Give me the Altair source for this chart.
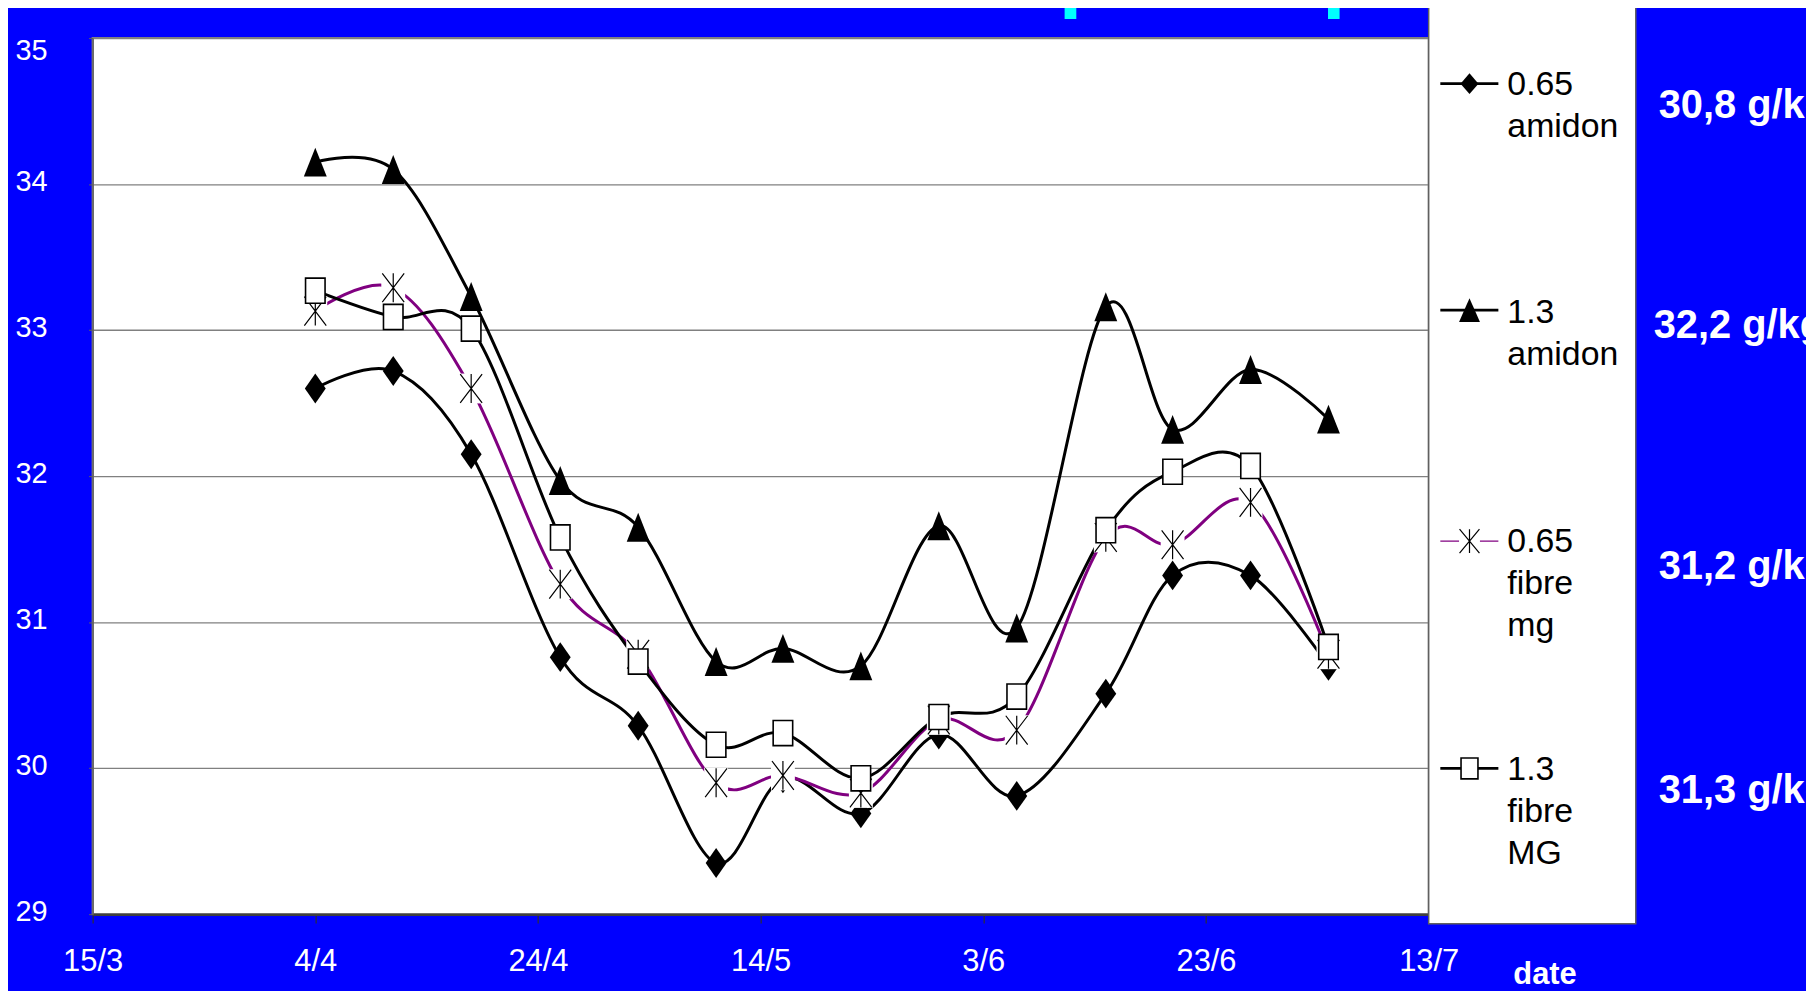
import altair as alt
import pandas as pd

# ---------------- data ----------------
dates = ["2002-04-04", "2002-04-11", "2002-04-18", "2002-04-26", "2002-05-03",
         "2002-05-10", "2002-05-16", "2002-05-23", "2002-05-30", "2002-06-06",
         "2002-06-14", "2002-06-20", "2002-06-27", "2002-07-04"]
series_names = ["0.65 amidon", "1.3 amidon", "0.65 fibre mg", "1.3 fibre MG"]
amidon_065 = [32.60, 32.72, 32.15, 30.76, 30.29, 29.35, 29.93, 29.69, 30.23, 29.81, 30.51, 31.32, 31.32, 30.70]
amidon_13 = [34.15, 34.10, 33.23, 31.97, 31.65, 30.73, 30.82, 30.70, 31.66, 30.96, 33.16, 32.32, 32.73, 32.39]
fibre_065 = [33.13, 33.29, 32.60, 31.26, 30.78, 29.90, 29.95, 29.83, 30.33, 30.26, 31.58, 31.53, 31.82, 30.78]
fibre_13 = [33.27, 33.09, 33.01, 31.58, 30.73, 30.16, 30.24, 29.93, 30.35, 30.49, 31.63, 32.03, 32.07, 30.83]

x_tick_dates = [(2002, 3, 15), (2002, 4, 4), (2002, 4, 24), (2002, 5, 14),
                (2002, 6, 3), (2002, 6, 23), (2002, 7, 13)]
y_ticks = [29, 30, 31, 32, 33, 34, 35]
legend_labels = [["0.65", "amidon"], ["1.3", "amidon"], ["0.65", "fibre", "mg"], ["1.3", "fibre", "MG"]]
mean_labels = ["30,8 g/kg", "32,2 g/kg", "31,2 g/kg", "31,3 g/kg"]
title_text = "Résultats de taux protéique"
x_title = "date"

rows = []
for name, vals in zip(series_names, [amidon_065, amidon_13, fibre_065, fibre_13]):
    for d, v in zip(dates, vals):
        rows.append({"date": d, "value": v, "series": name})
df = pd.DataFrame(rows)
one = pd.DataFrame({"k": [0]})

# ---------------- styles ----------------
FONT = "Liberation Sans"
BLACK = "#000000"
PURPLE = "#800080"
DIAMOND = "M0,-15L10.5,0L0,15L-10.5,0Z"
TRIANGLE = "M0,-14.5L11.5,14.5L-11.5,14.5Z"
SQUARE = "M-9.8,-12.6H9.8V12.6H-9.8Z"
STAR = "M0,-14.5V14.5M-11,-14.5L11,14.5M11,-14.5L-11,14.5"
STARBOX = "M-12,-15H12V15H-12Z"
L_DIAMOND = "M0,-10.5L9,0L0,10.5L-9,0Z"
L_TRIANGLE = "M0,-12L10.5,12L-10.5,12Z"
L_SQUARE = "M-8.5,-10.5H8.5V10.5H-8.5Z"
L_STAR = "M0,-12V12M-10,-12L10,12M10,-12L-10,12"
L_STARBOX = "M-10.5,-12.5H10.5V12.5H-10.5Z"


def dt(t):
    return alt.DateTime(year=t[0], month=t[1], date=t[2], utc=True)


x_enc = alt.X(
    "date:T",
    scale=alt.Scale(type="utc", domain=[dt(x_tick_dates[0]), dt(x_tick_dates[-1])]),
    axis=alt.Axis(
        values=[dt(t) for t in x_tick_dates],
        labelExpr="utcFormat(datum.value, '%-d/%-m')",
        title=None, grid=False, domainColor="#404040", domainWidth=2.5,
        tickColor="#303030", tickSize=9, tickWidth=1.2,
        labelColor="white", labelFont=FONT, labelFontSize=31, labelPadding=48,
        labelBaseline="alphabetic", labelFlush=False, labelOverlap=False,
    ),
)
y_enc = alt.Y(
    "value:Q",
    scale=alt.Scale(domain=[29, 35], zero=False, nice=False),
    axis=alt.Axis(
        values=y_ticks, format="d", title=None, grid=True, gridColor="#808080",
        gridWidth=1.3, domainColor="#606060", domainWidth=1.5, tickColor="#606060",
        tickSize=4, labelColor="white", labelFont=FONT, labelFontSize=29,
        labelAlign="left", labelPadding=74, labelBaseline="middle",
        labelOffset={"condition": {"test": "datum.value == 35", "value": 13}, "value": -3},
        labelOverlap=False, labelFlush=False,
    ),
)

base = alt.Chart(df).encode(x=x_enc, y=y_enc)

lines = base.mark_line(interpolate="cardinal").encode(
    color=alt.Color("series:N", scale=alt.Scale(domain=series_names, range=[BLACK, BLACK, PURPLE, BLACK]), legend=None),
    strokeWidth=alt.StrokeWidth("series:N", scale=alt.Scale(domain=series_names, range=[3, 3, 1.3, 3]), legend=None),
)


def pts(name, **kw):
    return base.transform_filter(alt.datum.series == name).mark_point(size=4, opacity=1, **kw)


diamonds = pts(series_names[0], shape=DIAMOND, filled=True, fill=BLACK, strokeWidth=0)
triangles = pts(series_names[1], shape=TRIANGLE, filled=True, fill=BLACK, strokeWidth=0)
starbox = pts(series_names[2], shape=STARBOX, filled=True, fill="white", strokeWidth=0)
stars = pts(series_names[2], shape=STAR, filled=False, stroke=BLACK, strokeWidth=1.2)
squares = pts(series_names[3], shape=SQUARE, filled=True, fill="white", stroke=BLACK, strokeWidth=1.6)

# ---------------- annotations (positions relative to plot origin) ----------------
title = alt.Chart(one).mark_text(
    text=title_text, align="left", baseline="alphabetic", font=FONT, fontWeight="bold",
    fontSize=85, color="#00FFFF",
).encode(x=alt.value(243), y=alt.value(-37.6))

legend_box = alt.Chart(one).mark_rect(fill="white", stroke="#606060", strokeWidth=1.5).encode(
    x=alt.value(1342), x2=alt.value(1550), y=alt.value(-31), y2=alt.value(889.6)
)

row_y = [45.8, 273.3, 505.3, 733.6]
text_y = [57.2, 286.0, 516.6, 745.6]
legend_layers = []
line_styles = [(BLACK, 2.6), (BLACK, 2.6), (PURPLE, 1.3), (BLACK, 2.6)]
for i in range(4):
    col, w = line_styles[i]
    legend_layers.append(
        alt.Chart(one).mark_rule(color=col, strokeWidth=w).encode(
            x=alt.value(1353.7), x2=alt.value(1412), y=alt.value(row_y[i])
        )
    )
    pos = dict(x=alt.value(1383), y=alt.value(row_y[i]))
    if i == 0:
        legend_layers.append(alt.Chart(one).mark_point(shape=L_DIAMOND, size=4, opacity=1, filled=True, fill=BLACK, strokeWidth=0).encode(**pos))
    elif i == 1:
        legend_layers.append(alt.Chart(one).mark_point(shape=L_TRIANGLE, size=4, opacity=1, filled=True, fill=BLACK, strokeWidth=0).encode(**pos))
    elif i == 2:
        legend_layers.append(alt.Chart(one).mark_point(shape=L_STARBOX, size=4, opacity=1, filled=True, fill="white", strokeWidth=0).encode(**pos))
        legend_layers.append(alt.Chart(one).mark_point(shape=L_STAR, size=4, opacity=1, filled=False, stroke=BLACK, strokeWidth=1.2).encode(**pos))
    else:
        legend_layers.append(alt.Chart(one).mark_point(shape=L_SQUARE, size=4, opacity=1, filled=True, fill="white", stroke=BLACK, strokeWidth=1.6).encode(**pos))
    legend_layers.append(
        alt.Chart(one).mark_text(
            text=legend_labels[i], align="left", baseline="alphabetic", font=FONT,
            fontSize=34, lineHeight=42, color=BLACK,
        ).encode(x=alt.value(1421), y=alt.value(text_y[i]))
    )

mean_x = [1573, 1568, 1573, 1573]
mean_y = [80.4, 301.6, 543.6, 768.6]
mean_layers = [
    alt.Chart(one).mark_text(
        text=mean_labels[i], align="left", baseline="alphabetic", font=FONT,
        fontWeight="bold", fontSize=40, color="white",
    ).encode(x=alt.value(mean_x[i]), y=alt.value(mean_y[i]))
    for i in range(4)
]

date_label = alt.Chart(one).mark_text(
    text=x_title, align="left", baseline="alphabetic", font=FONT, fontWeight="bold",
    fontSize=31, color="white",
).encode(x=alt.value(1427), y=alt.value(950.6))

chart = alt.layer(
    lines, diamonds, triangles, starbox, stars, squares,
    title, legend_box, *legend_layers, *mean_layers, date_label,
).properties(
    width=1342, height=880,
    padding={"left": 85, "top": 28, "right": 379, "bottom": 75},
    autosize=alt.AutoSizeParams(type="none"),
    background="#0000FF",
).configure_view(fill="white", stroke="#808080", strokeWidth=2)

chart.save("out.html", embed_options={"renderer": "svg", "actions": False})
